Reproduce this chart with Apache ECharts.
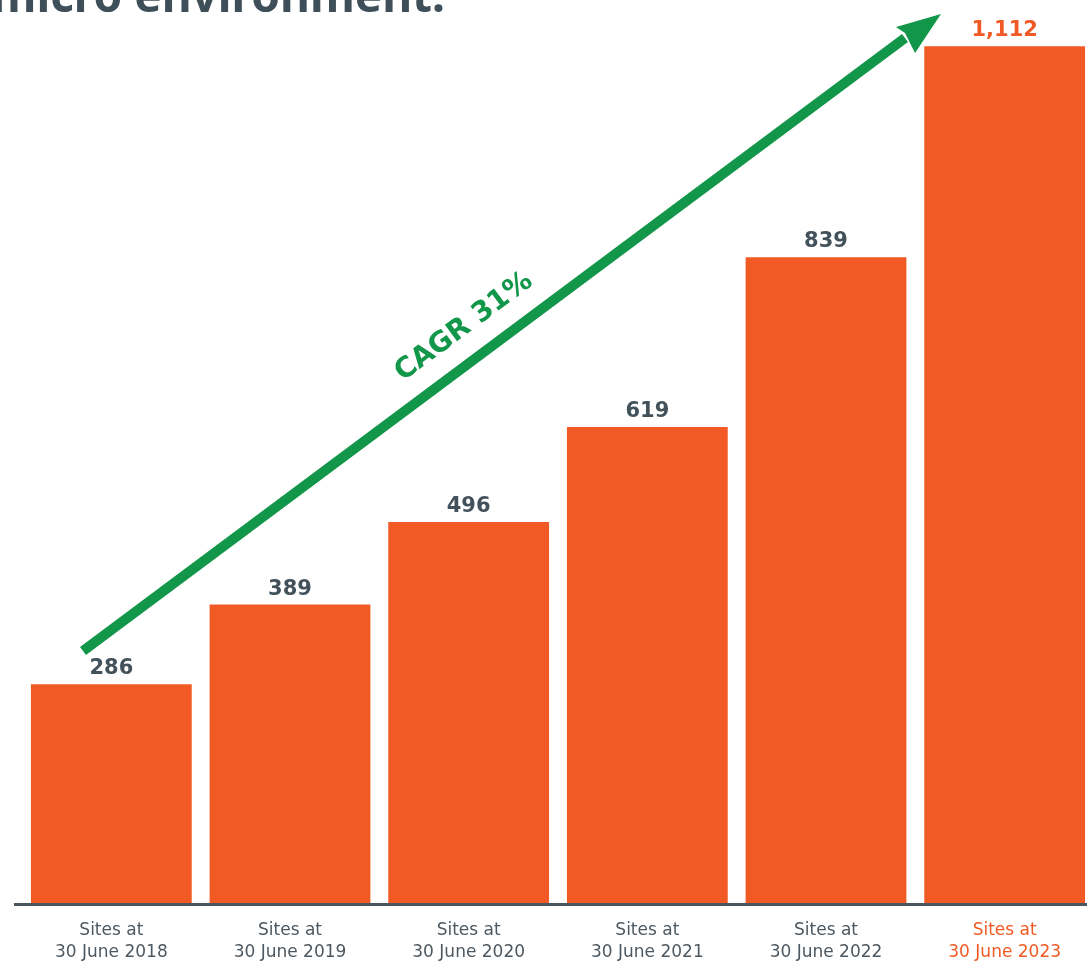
<!DOCTYPE html>
<html>
<head>
<meta charset="utf-8">
<script src="https://cdn.jsdelivr.net/npm/echarts@6/dist/echarts.min.js"></script>
<style>html,body{margin:0;padding:0;background:#fff}#c{width:1087px;height:961px}</style>
</head>
<body>
<div id="c"></div>
<script>
const categories = ['Sites at\n30 June 2018','Sites at\n30 June 2019','Sites at\n30 June 2020','Sites at\n30 June 2021','Sites at\n30 June 2022','Sites at\n30 June 2023'];
const siteCounts = [286, 389, 496, 619, 839, 1112];
const titleText = 'micro environment.';
const cagrText = 'CAGR 31%';

const ORANGE = '#f15a24';
const SLATE = '#43515b';
const GREEN = '#12964a';
const FONT = '"DejaVu Sans", "Noto Sans", sans-serif';

const chart = echarts.init(document.getElementById('c'));
const last = siteCounts.length - 1;
const option = {
  animation: false,
  grid: { left: 22, width: 1072, top: 17, bottom: 56, containLabel: false, outerBoundsMode: 'none' },
  xAxis: {
    type: 'category',
    data: categories,
    axisTick: { show: false },
    axisLine: { show: false },
    axisLabel: {
      interval: 0,
      fontFamily: FONT,
      fontSize: 17,
      lineHeight: 22,
      margin: 15,
      color: function (v, i) { return i === last ? ORANGE : '#4d5860'; }
    }
  },
  yAxis: { type: 'value', min: 0, max: 1150, show: false, splitLine: { show: false } },
  series: [{
    type: 'bar',
    barCategoryGap: '10%',
    data: siteCounts.map((v, i) => ({
      value: v,
      itemStyle: { color: ORANGE },
      label: { color: i === last ? ORANGE : SLATE }
    })),
    label: {
      show: true,
      position: 'top',
      distance: 5,
      fontFamily: FONT,
      fontWeight: 'bold',
      fontSize: 21,
      formatter: p => p.value.toLocaleString('en-US')
    }
  }],
  graphic: [
    {
      type: 'line', z: 5,
      shape: { x1: 14, y1: 904.5, x2: 1087, y2: 904.5 },
      style: { stroke: '#4b555d', lineWidth: 3 }
    },
    {
      type: 'text', z: 5,
      x: 445, y: 22,
      style: { text: titleText, font: 'bold 46px "Noto Sans", sans-serif', fill: '#3f4f5a', textAlign: 'right', textVerticalAlign: 'bottom' }
    },
    {
      type: 'line', z: 10,
      shape: { x1: 83, y1: 651, x2: 905, y2: 38 },
      style: { stroke: GREEN, lineWidth: 10 }
    },
    {
      type: 'polygon', z: 10,
      shape: { points: [[941, 14], [896, 27], [905, 33], [915, 53]] },
      style: { fill: GREEN }
    },
    {
      type: 'text', z: 10,
      x: 464, y: 327,
      rotation: 36.6 * Math.PI / 180,
      style: { text: cagrText, font: 'bold 28px ' + FONT, fill: GREEN, textAlign: 'center', textVerticalAlign: 'middle' }
    }
  ]
};
chart.setOption(option);
</script>
</body>
</html>
